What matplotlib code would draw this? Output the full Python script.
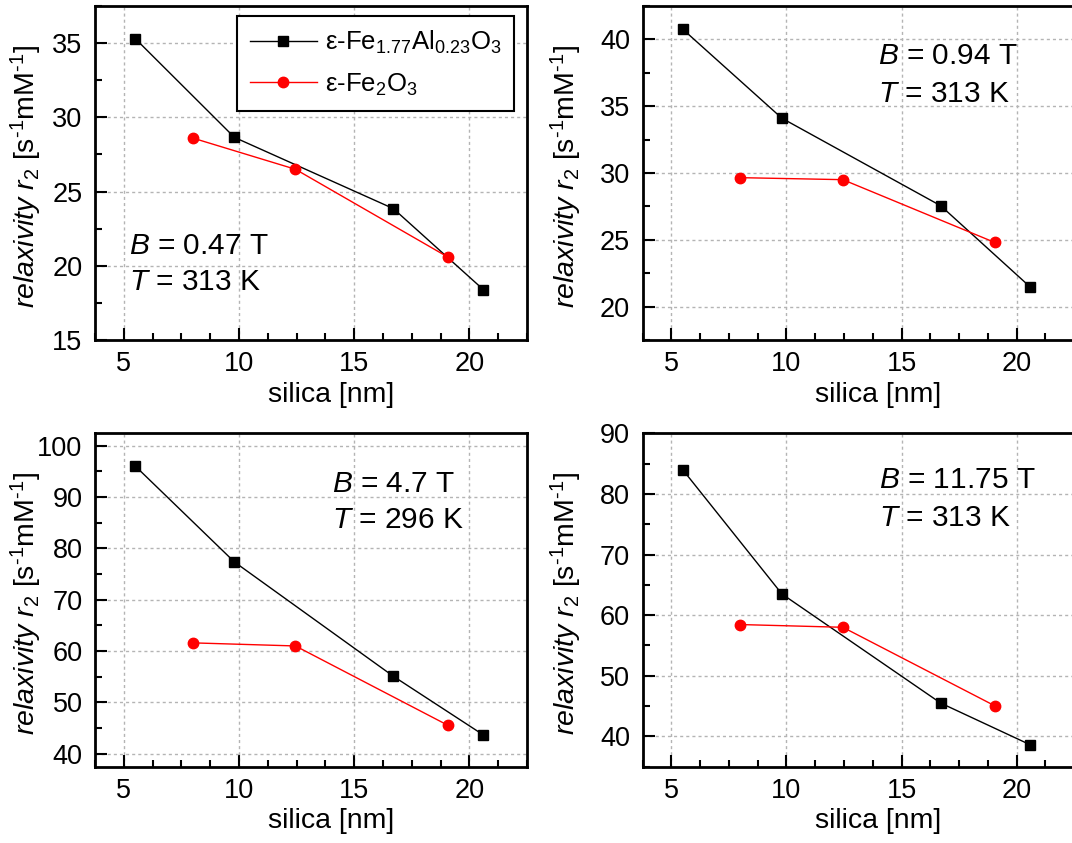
import matplotlib
matplotlib.use('Agg')
import matplotlib.pyplot as plt
from matplotlib.ticker import MultipleLocator

plt.rcParams['font.family'] = ['Liberation Sans', 'DejaVu Sans']
plt.rcParams['mathtext.fontset'] = 'custom'
plt.rcParams['mathtext.rm'] = 'Liberation Sans'
plt.rcParams['mathtext.it'] = 'Liberation Sans:italic'
plt.rcParams['mathtext.bf'] = 'Liberation Sans:bold'

# silica shell thickness [nm]
silica_al = [5.5, 9.8, 16.7, 20.6]
silica_fe = [8.0, 12.45, 19.05]

# relaxivity r2 for each field / temperature
r2_al_047 = [35.3, 28.65, 23.85, 18.4]
r2_fe_047 = [28.6, 26.5, 20.6]
r2_al_094 = [40.75, 34.1, 27.55, 21.45]
r2_fe_094 = [29.65, 29.5, 24.8]
r2_al_47 = [96.0, 77.35, 55.1, 43.7]
r2_fe_47 = [61.6, 61.0, 45.6]
r2_al_1175 = [83.95, 63.5, 45.5, 38.6]
r2_fe_1175 = [58.45, 58.0, 45.05]

fields = ['0.47', '0.94', '4.7', '11.75']
temps = ['313', '313', '296', '313']

label_al = r'ε-Fe$_{1.77}$Al$_{0.23}$O$_3$'
label_fe = r'ε-Fe$_2$O$_3$'

al_series = [r2_al_047, r2_al_094, r2_al_47, r2_al_1175]
fe_series = [r2_fe_047, r2_fe_094, r2_fe_47, r2_fe_1175]

# layout of the four panels (figure fractions)
positions = [
    [0.0886, 0.5967, 0.4030, 0.3962],
    [0.5995, 0.5967, 0.4025, 0.3962],
    [0.0886, 0.0905, 0.4030, 0.3962],
    [0.5995, 0.0905, 0.4025, 0.3955],
]
ylims = [(15, 37.5), (17.5, 42.5), (37.5, 102.5), (35, 90)]
ysteps = [5, 5, 10, 10]
# annotation position: x, baseline of line 1, baseline of line 2 (axes fraction)
text_pos = [
    (0.079, 0.2575, 0.150),
    (0.545, 0.826, 0.7135),
    (0.549, 0.823, 0.714),
    (0.547, 0.835, 0.722),
]
ylabel_x = [-0.117, -0.136, -0.117, -0.136]

fig = plt.figure(figsize=(10.72, 8.43), dpi=100)

for i in range(4):
    ax = fig.add_axes(positions[i])

    ax.plot(silica_al, al_series[i], color='black', lw=1.0, marker='s',
            markersize=7, label=label_al, zorder=3)
    ax.plot(silica_fe, fe_series[i], color='red', lw=1.0, marker='o',
            markersize=7.5, label=label_fe, zorder=4)

    ax.set_xlim(3.75, 22.5)
    ax.set_ylim(*ylims[i])
    ax.xaxis.set_major_locator(MultipleLocator(5))
    ax.xaxis.set_minor_locator(MultipleLocator(1.25))
    ax.yaxis.set_major_locator(MultipleLocator(ysteps[i]))
    ax.yaxis.set_minor_locator(MultipleLocator(ysteps[i] / 2))

    ax.tick_params(which='both', direction='in', top=False, right=False,
                   width=1.5, labelsize=19.5)
    ax.tick_params(which='major', length=8.5)
    ax.tick_params(which='minor', length=5)
    ax.tick_params(axis='y', pad=9)
    ax.tick_params(axis='x', pad=8)

    for sp in ax.spines.values():
        sp.set_linewidth(2.0)

    ax.set_axisbelow(True)
    ax.grid(True, which='major', color='#b4b4b4', linestyle=(0, (2.2, 2.2)),
            linewidth=1.0)

    ax.set_xlabel('silica [nm]', fontsize=20.5)
    ax.xaxis.set_label_coords(0.546, -0.125)
    ax.set_ylabel(r'$\mathit{relaxivity}$ $r_2$ [s$^{\text{-}1}$mM$^{\text{-}1}$]',
                  fontsize=20.5)
    ax.yaxis.set_label_coords(ylabel_x[i], 0.49)

    tx, ty1, ty2 = text_pos[i]
    ax.text(tx, ty1, r'$B$ = ' + fields[i] + ' T', transform=ax.transAxes,
            fontsize=21.5, ha='left', va='baseline')
    ax.text(tx, ty2, r'$T$ = ' + temps[i] + ' K', transform=ax.transAxes,
            fontsize=21.5, ha='left', va='baseline')

    if i == 0:
        leg = ax.legend(loc='upper right', bbox_to_anchor=(0.97, 0.97),
                        borderaxespad=0, fancybox=False, edgecolor='black',
                        framealpha=1, fontsize=18.5, handlelength=2.6,
                        handletextpad=0.3, labelspacing=0.6, borderpad=0.5)
        leg.get_frame().set_linewidth(1.5)

fig.savefig('out.png', dpi=100)
